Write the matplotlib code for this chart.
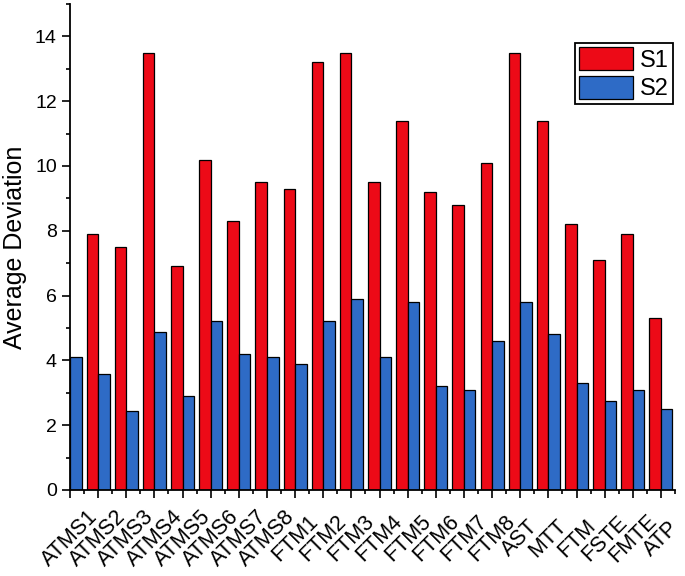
import numpy as np
import matplotlib
matplotlib.use("Agg")
import matplotlib.pyplot as plt
from matplotlib.ticker import MultipleLocator, FixedLocator

categories = ['ATMS1', 'ATMS2', 'ATMS3', 'ATMS4', 'ATMS5', 'ATMS6', 'ATMS7', 'ATMS8',
              'FTM1', 'FTM2', 'FTM3', 'FTM4', 'FTM5', 'FTM6', 'FTM7', 'FTM8',
              'AST', 'MTT', 'FTM', 'FSTE', 'FMTE', 'ATP']
# first S1 bar is cut off by the axis in the original, value unknown
s1 = [np.nan, 7.9, 7.5, 13.5, 6.9, 10.2, 8.3, 9.5,
      9.3, 13.2, 13.5, 9.5, 11.4, 9.2, 8.8, 10.1,
      13.5, 11.4, 8.2, 7.1, 7.9, 5.3]
s2 = [4.1, 3.58, 2.44, 4.88, 2.9, 5.21, 4.19, 4.09,
      3.9, 5.21, 5.9, 4.09, 5.81, 3.21, 3.08, 4.59,
      5.81, 4.8, 3.29, 2.75, 3.1, 2.51]

plt.rcParams['font.family'] = ['Liberation Sans', 'DejaVu Sans']

fig = plt.figure(figsize=(6.85, 5.76), dpi=100)
ax = fig.add_axes([70 / 685, 86 / 576, 605 / 685, 486 / 576])

x = np.arange(len(categories))
w = 0.41
ax.bar(x, s1, width=-w, align='edge', color='#ED0A17', edgecolor='black', linewidth=0.9, label='S1')
ax.bar(x, s2, width=w, align='edge', color='#2E6BC6', edgecolor='black', linewidth=0.9, label='S2')

ax.set_xlim(0, 21.5)
ax.set_ylim(0, 15)

ax.spines['top'].set_visible(False)
ax.spines['right'].set_visible(False)
ax.spines['left'].set_linewidth(1.3)
ax.spines['bottom'].set_linewidth(1.3)

ax.set_xticks(x)
ax.xaxis.set_minor_locator(FixedLocator(x + 0.5))
ax.set_xticklabels(categories, rotation=45, ha='center', va='center', rotation_mode='anchor', fontsize=15.5)
ax.yaxis.set_major_locator(MultipleLocator(2))
ax.yaxis.set_minor_locator(MultipleLocator(1))
ax.tick_params(axis='both', which='major', direction='out', length=6, width=1.2)
ax.tick_params(axis='both', which='minor', direction='out', length=3, width=1.2)
ax.tick_params(axis='x', which='major', pad=29)
ax.tick_params(axis='y', labelsize=14)

ax.set_ylabel('Average Deviation', fontsize=18, labelpad=6)

leg = ax.legend(loc='upper right', bbox_to_anchor=(673 / 685, 1 - 43 / 576),
                bbox_transform=fig.transFigure, borderaxespad=0, fontsize=17,
                fancybox=False, edgecolor='black', framealpha=1,
                handlelength=2.3, handleheight=1.15, labelspacing=0.17,
                borderpad=0.17, handletextpad=0.3)
leg.get_frame().set_linewidth(1.3)

fig.savefig('out.png', dpi=100)
